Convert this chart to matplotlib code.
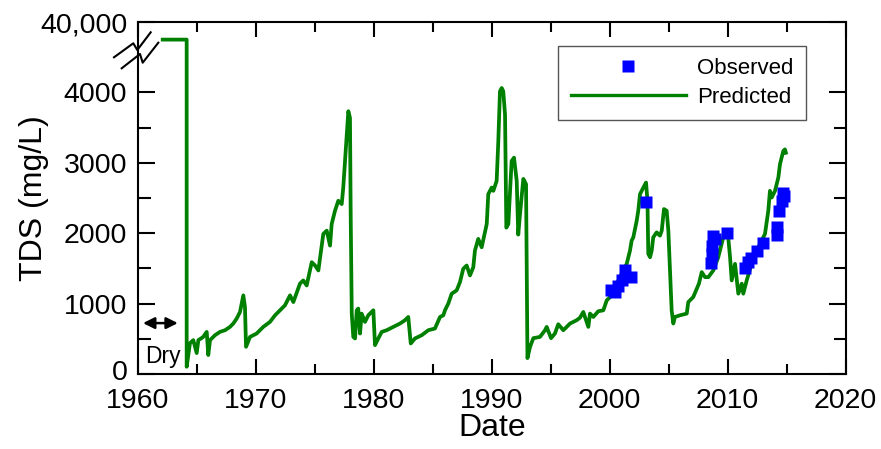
import matplotlib
matplotlib.use("Agg")
import matplotlib.pyplot as plt
from matplotlib.lines import Line2D
from matplotlib.ticker import MultipleLocator, FixedLocator
from matplotlib.transforms import ScaledTranslation

plt.rcParams['font.family'] = ['Liberation Sans', 'DejaVu Sans']

# ---- data (values on the broken axis; 4750 on-plot == 40,000 mg/L) ----
pred_year = [1962.12, 1964.15, 1964.15, 1964.43, 1964.71, 1965.00, 1965.14, 1965.53, 1965.85, 1965.98,
             1966.13, 1966.55, 1966.97, 1967.40, 1967.82, 1968.10, 1968.39, 1968.67, 1968.95, 1969.09,
             1969.18, 1969.52, 1970.08, 1970.64, 1971.21, 1971.64, 1972.06, 1972.48, 1972.91, 1973.19,
             1973.75, 1974.03, 1974.32, 1974.75, 1975.03, 1975.31, 1975.73, 1976.02, 1976.30, 1976.44,
             1976.72, 1977.00, 1977.29, 1977.42, 1977.57, 1977.85, 1977.99, 1978.05, 1978.14, 1978.27,
             1978.42, 1978.56, 1978.69, 1978.84, 1978.98, 1979.26, 1979.54, 1979.97, 1980.11, 1980.39,
             1980.68, 1981.10, 1981.66, 1982.23, 1982.65, 1982.93, 1983.14, 1983.50, 1984.07, 1984.63,
             1985.19, 1985.62, 1985.90, 1986.04, 1986.32, 1986.61, 1987.03, 1987.31, 1987.59, 1987.88,
             1988.16, 1988.44, 1988.58, 1988.86, 1989.15, 1989.58, 1989.71, 1990.00, 1990.14, 1990.42,
             1990.56, 1990.70, 1990.85, 1990.98, 1991.13, 1991.24, 1991.41, 1991.69, 1991.89, 1992.12,
             1992.25, 1992.40, 1992.68, 1992.91, 1992.99, 1993.03, 1993.25, 1993.53, 1994.09, 1994.52,
             1994.66, 1995.03, 1995.36, 1995.64, 1996.07, 1996.64, 1997.20, 1997.48, 1997.76, 1998.19,
             1998.33, 1998.61, 1999.03, 1999.46, 1999.75, 2000.03, 2000.31, 2000.59, 2001.02, 2001.44,
             2001.72, 2001.86, 2002.00, 2002.29, 2002.42, 2002.57, 2002.85, 2003.08, 2003.20, 2003.27,
             2003.42, 2003.56, 2003.69, 2003.98, 2004.26, 2004.41, 2004.60, 2004.83, 2004.97, 2005.11,
             2005.25, 2005.39, 2005.53, 2005.96, 2006.53, 2006.66, 2007.08, 2007.56, 2007.80, 2008.08,
             2008.36, 2008.78, 2009.20, 2009.49, 2009.77, 2010.03, 2010.20, 2010.34, 2010.62, 2010.90,
             2011.19, 2011.32, 2011.61, 2012.03, 2012.59, 2013.16, 2013.44, 2013.58, 2013.73, 2014.01,
             2014.29, 2014.43, 2014.71, 2014.85, 2014.93]
pred_tds = [4750, 4750, 103, 438, 481, 297, 481, 523, 598, 269,
            481, 551, 598, 622, 669, 717, 788, 881, 1117, 952,
            386, 527, 575, 669, 740, 834, 905, 976, 1117, 1022,
            1283, 1329, 1258, 1588, 1541, 1471, 1990, 2036, 1824, 2131,
            2319, 2461, 2414, 2648, 3026, 3733, 3638, 2272, 858, 527,
            505, 905, 929, 575, 858, 740, 834, 905, 410, 505,
            598, 622, 669, 717, 764, 810, 434, 505, 551, 622,
            646, 810, 834, 905, 1000, 1141, 1188, 1305, 1495, 1541,
            1400, 1517, 1753, 1919, 1800, 2131, 2555, 2648, 2602, 2743,
            3309, 4016, 4062, 4016, 3686, 2079, 2131, 3026, 3073, 2743,
            1980, 2272, 2771, 2697, 1046, 226, 386, 509, 527, 622,
            669, 509, 575, 707, 622, 717, 764, 799, 881, 669,
            858, 810, 891, 905, 1046, 1093, 1141, 1283, 1424, 1565,
            1753, 1895, 1941, 2178, 2319, 2555, 2648, 2719, 2460, 1707,
            1659, 1753, 1941, 2012, 1965, 2036, 2343, 2319, 2036, 1471,
            905, 717, 810, 834, 858, 1022, 1093, 1283, 1447, 1376,
            1376, 1471, 1659, 1848, 2036, 1965, 1659, 1329, 1565, 1141,
            1283, 1141, 1329, 1565, 1800, 1990, 2319, 2602, 2507, 2602,
            2790, 2979, 3167, 3191, 3143]

obs_year = [2000.14, 2000.42, 2000.70, 2001.00, 2001.27, 2001.84, 2003.05,
            2008.62, 2008.66, 2008.70, 2008.75, 2008.90, 2009.92,
            2011.47, 2011.73, 2011.97, 2012.46, 2013.02,
            2014.15, 2014.20, 2014.37, 2014.58, 2014.71, 2014.77]
obs_tds = [1190, 1160, 1250, 1329, 1471, 1376, 2450,
           1574, 1700, 1824, 1965, 1920, 1998,
           1500, 1584, 1654, 1753, 1857,
           1980, 2083, 2319, 2460, 2578, 2530]

y_ticks = [0, 1000, 2000, 3000, 4000, 5000]
y_tick_labels = ['0', '1000', '2000', '3000', '4000', '40,000']
x_ticks = [1960, 1970, 1980, 1990, 2000, 2010, 2020]

# ---- figure ----
fig = plt.figure(figsize=(8.81, 4.49), dpi=100)
ax = fig.add_axes([137.7 / 881, 75 / 449, 708 / 881, 352 / 449])

green = '#008000'
blue = '#0000FF'
ax.plot(pred_year, pred_tds, color=green, lw=2.7, solid_joinstyle='round', zorder=2)
ax.plot(obs_year, obs_tds, ls='none', marker='s', ms=9.3, mec='none', mfc=blue, zorder=3)

ax.set_xlim(1960, 2020)
ax.set_ylim(0, 5000)
ax.set_xticks(x_ticks)
ax.xaxis.set_minor_locator(MultipleLocator(5))
ax.set_yticks(y_ticks)
ax.set_yticklabels(y_tick_labels)
ax.yaxis.set_minor_locator(FixedLocator([500, 1500, 2500, 3500]))

for s in ax.spines.values():
    s.set_linewidth(1.5)

ax.tick_params(axis='both', which='both', direction='in', top=True, right=True,
               width=1.5, labelsize=20.5, colors='black')
ax.tick_params(axis='x', which='major', length=11, pad=10)
ax.tick_params(axis='x', which='minor', length=7)
ax.tick_params(axis='y', which='major', length=12, pad=7.5)
ax.tick_params(axis='y', which='minor', length=9)

# nudge the "0" label up a touch so it does not collide with "1960"
zero_lbl = ax.get_yticklabels()[0]
zero_lbl.set_transform(zero_lbl.get_transform() + ScaledTranslation(0, 3 / 72, fig.dpi_scale_trans))

ax.set_xlabel('Date', fontsize=23)
ax.set_ylabel('TDS (mg/L)', fontsize=23)
ax.xaxis.set_label_coords(0.5, -0.11)
ax.yaxis.set_label_coords(-0.125, 0.5)

# axis break marks on the left spine (pixel positions converted to axes fraction)
def px2ax(px, py):
    return (px - 137.7) / 708, (374 - py) / 352

for pts in ([(114, 57.3), (133.3, 43.3), (137.3, 50), (150.7, 32.3)],
            [(121.7, 68.3), (140, 54), (142.7, 62.7), (158.3, 42.7)]):
    xs, ys = zip(*[px2ax(*p) for p in pts])
    ax.plot(xs, ys, transform=ax.transAxes, color='black', lw=1.5, clip_on=False, zorder=5)

# Dry annotation
ax.annotate('', xy=(1960.45, 723), xytext=(1963.4, 723),
            arrowprops=dict(arrowstyle='<|-|>', color='black', lw=1.8,
                            mutation_scale=17, shrinkA=0, shrinkB=0))
ax.text(1962.1, 245, 'Dry', fontsize=16.5, ha='center', va='center')

handles = [Line2D([], [], ls='none', marker='s', ms=9.3, mec='none', mfc=blue),
           Line2D([], [], color=green, lw=2.4)]
leg = ax.legend(handles, ['Observed', 'Predicted'], loc='upper right',
                bbox_to_anchor=(0.9439, 0.9318), borderaxespad=0, fontsize=16,
                handlelength=5.2, handletextpad=0.5, borderpad=0.55, labelspacing=0.35,
                fancybox=False, framealpha=1, edgecolor='#555555')
leg.get_frame().set_linewidth(1.0)

fig.savefig('out.png', dpi=100)
